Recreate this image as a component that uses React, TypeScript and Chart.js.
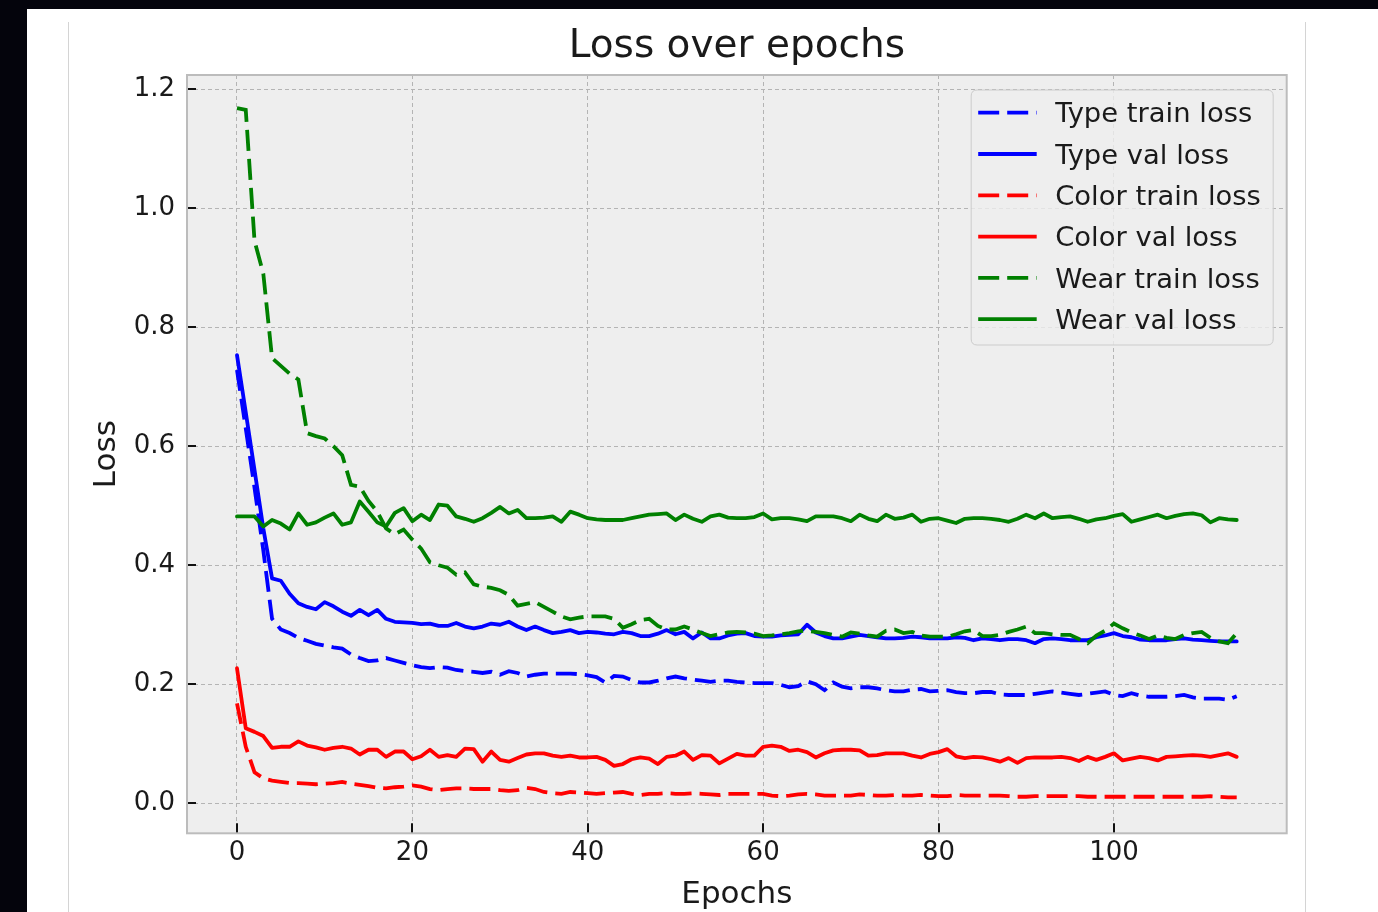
import React, { useEffect, useRef } from "react";
import { Chart, registerables } from "chart.js";

Chart.register(...registerables);

const FONT = "DejaVu Sans";
const TEXT = "#1a1a1a";

const chartTitle = "Loss over epochs";
const xLabel = "Epochs";
const yLabel = "Loss";
const xTickValues = [0, 20, 40, 60, 80, 100];
const yTickValues = [0.0, 0.2, 0.4, 0.6, 0.8, 1.0, 1.2];

const seriesLabels = [
  "Type train loss",
  "Type val loss",
  "Color train loss",
  "Color val loss",
  "Wear train loss",
  "Wear val loss",
];

const typeTrainLoss = [
  0.728, 0.630, 0.530, 0.425, 0.310, 0.292, 0.286, 0.278, 0.273, 0.268,
  0.265, 0.262, 0.260, 0.250, 0.244, 0.239, 0.240, 0.244, 0.240, 0.236,
  0.232, 0.229, 0.227, 0.229, 0.228, 0.224, 0.222, 0.221, 0.219, 0.221,
  0.216, 0.222, 0.219, 0.213, 0.216, 0.218, 0.218, 0.218, 0.218, 0.217,
  0.215, 0.212, 0.203, 0.214, 0.213, 0.207, 0.203, 0.203, 0.206, 0.210,
  0.213, 0.210, 0.208, 0.206, 0.204, 0.206, 0.206, 0.204, 0.203, 0.202,
  0.202, 0.202, 0.199, 0.195, 0.197, 0.205, 0.200, 0.190, 0.203, 0.196,
  0.193, 0.195, 0.195, 0.193, 0.190, 0.188, 0.188, 0.191, 0.192, 0.188,
  0.189, 0.190, 0.187, 0.185, 0.185, 0.187, 0.187, 0.183, 0.182, 0.182,
  0.182, 0.184, 0.186, 0.188, 0.186, 0.184, 0.182, 0.184, 0.186, 0.188,
  0.182, 0.180, 0.185, 0.181, 0.179, 0.179, 0.179, 0.180, 0.182, 0.178,
  0.176, 0.176, 0.176, 0.174, 0.180,
];

const typeValLoss = [
  0.753, 0.657, 0.560, 0.462, 0.378, 0.374, 0.352, 0.336, 0.330, 0.326,
  0.338, 0.331, 0.322, 0.315, 0.325, 0.316, 0.325, 0.310, 0.305, 0.304,
  0.303, 0.301, 0.302, 0.298, 0.298, 0.303, 0.297, 0.294, 0.297, 0.302,
  0.300, 0.305, 0.297, 0.291, 0.297, 0.291, 0.286, 0.288, 0.291, 0.286,
  0.288, 0.287, 0.285, 0.284, 0.288, 0.286, 0.281, 0.281, 0.285, 0.291,
  0.284, 0.288, 0.277, 0.287, 0.277, 0.277, 0.282, 0.285, 0.286, 0.281,
  0.280, 0.280, 0.282, 0.283, 0.284, 0.300, 0.287, 0.281, 0.277, 0.277,
  0.280, 0.283, 0.281, 0.279, 0.277, 0.277, 0.278, 0.280, 0.279, 0.277,
  0.277, 0.277, 0.279, 0.278, 0.274, 0.277, 0.276, 0.274, 0.276, 0.276,
  0.274, 0.269, 0.276, 0.277, 0.276, 0.274, 0.274, 0.274, 0.279, 0.282,
  0.286, 0.281, 0.279, 0.275, 0.274, 0.274, 0.274, 0.276, 0.277, 0.275,
  0.274, 0.273, 0.272, 0.272, 0.272,
];

const colorTrainLoss = [
  0.168, 0.095, 0.052, 0.042, 0.038, 0.036, 0.034, 0.034, 0.033, 0.032,
  0.033, 0.034, 0.036, 0.033, 0.031, 0.029, 0.026, 0.025, 0.027, 0.028,
  0.030, 0.028, 0.024, 0.022, 0.024, 0.025, 0.025, 0.024, 0.024, 0.024,
  0.022, 0.021, 0.022, 0.026, 0.024, 0.019, 0.017, 0.016, 0.019, 0.018,
  0.017, 0.016, 0.017, 0.018, 0.019, 0.016, 0.014, 0.016, 0.016, 0.017,
  0.016, 0.016, 0.017, 0.016, 0.015, 0.014, 0.016, 0.016, 0.016, 0.016,
  0.016, 0.013, 0.012, 0.013, 0.015, 0.016, 0.015, 0.013, 0.013, 0.013,
  0.013, 0.015, 0.014, 0.013, 0.013, 0.014, 0.013, 0.013, 0.014, 0.013,
  0.012, 0.012, 0.014, 0.013, 0.013, 0.013, 0.013, 0.013, 0.012, 0.011,
  0.011, 0.012, 0.012, 0.012, 0.012, 0.012, 0.012, 0.011, 0.011, 0.011,
  0.011, 0.011, 0.011, 0.011, 0.011, 0.011, 0.011, 0.011, 0.011, 0.011,
  0.011, 0.012, 0.011, 0.010, 0.010,
];

const colorValLoss = [
  0.227, 0.126, 0.120, 0.113, 0.093, 0.095, 0.095, 0.104, 0.097, 0.094,
  0.090, 0.093, 0.095, 0.092, 0.082, 0.090, 0.090, 0.078, 0.087, 0.087,
  0.074, 0.079, 0.090, 0.078, 0.081, 0.078, 0.092, 0.091, 0.070, 0.087,
  0.073, 0.070, 0.076, 0.082, 0.084, 0.084, 0.080, 0.078, 0.080, 0.077,
  0.077, 0.078, 0.073, 0.063, 0.066, 0.074, 0.077, 0.075, 0.066, 0.078,
  0.080, 0.087, 0.073, 0.081, 0.080, 0.067, 0.075, 0.083, 0.080, 0.080,
  0.095, 0.097, 0.095, 0.088, 0.090, 0.086, 0.077, 0.084, 0.089, 0.090,
  0.090, 0.089, 0.080, 0.081, 0.084, 0.084, 0.084, 0.080, 0.077, 0.083,
  0.086, 0.091, 0.079, 0.076, 0.078, 0.077, 0.074, 0.070, 0.076, 0.068,
  0.076, 0.077, 0.077, 0.077, 0.078, 0.076, 0.071, 0.078, 0.073, 0.078,
  0.084, 0.072, 0.075, 0.078, 0.076, 0.072, 0.078, 0.079, 0.080, 0.081,
  0.080, 0.078, 0.081, 0.084, 0.078,
];

const wearTrainLoss = [
  1.168, 1.165, 0.945, 0.890, 0.748, 0.735, 0.722, 0.712, 0.622, 0.617,
  0.613, 0.600, 0.585, 0.535, 0.532, 0.508, 0.490, 0.462, 0.452, 0.460,
  0.443, 0.428, 0.405, 0.400, 0.396, 0.384, 0.388, 0.368, 0.364, 0.362,
  0.358, 0.350, 0.332, 0.335, 0.338, 0.330, 0.322, 0.314, 0.309, 0.312,
  0.314, 0.314, 0.314, 0.310, 0.295, 0.301, 0.308, 0.310, 0.298, 0.292,
  0.292, 0.297, 0.292, 0.286, 0.281, 0.284, 0.287, 0.288, 0.287, 0.285,
  0.281, 0.282, 0.284, 0.286, 0.289, 0.290, 0.288, 0.286, 0.283, 0.280,
  0.287, 0.285, 0.282, 0.280, 0.290, 0.292, 0.286, 0.288, 0.282, 0.280,
  0.280, 0.280, 0.284, 0.289, 0.291, 0.281, 0.281, 0.283, 0.288, 0.292,
  0.297, 0.286, 0.286, 0.284, 0.283, 0.283, 0.276, 0.269, 0.282, 0.290,
  0.302, 0.294, 0.287, 0.282, 0.276, 0.282, 0.278, 0.276, 0.283, 0.286,
  0.288, 0.278, 0.272, 0.269, 0.286,
];

const wearValLoss = [
  0.482, 0.482, 0.482, 0.465, 0.476, 0.470, 0.460, 0.487, 0.468, 0.472,
  0.480, 0.487, 0.468, 0.472, 0.507, 0.490, 0.472, 0.465, 0.488, 0.496,
  0.474, 0.485, 0.476, 0.502, 0.500, 0.482, 0.478, 0.473, 0.479, 0.488,
  0.498, 0.487, 0.493, 0.479, 0.479, 0.480, 0.482, 0.473, 0.490, 0.485,
  0.479, 0.477, 0.476, 0.476, 0.476, 0.479, 0.482, 0.485, 0.486, 0.487,
  0.476, 0.485, 0.478, 0.473, 0.482, 0.485, 0.480, 0.479, 0.479, 0.481,
  0.487, 0.477, 0.479, 0.479, 0.477, 0.474, 0.482, 0.482, 0.482, 0.479,
  0.474, 0.485, 0.478, 0.474, 0.485, 0.478, 0.480, 0.485, 0.473, 0.478,
  0.479, 0.475, 0.471, 0.478, 0.479, 0.479, 0.478, 0.476, 0.473, 0.478,
  0.485, 0.479, 0.487, 0.479, 0.481, 0.482, 0.478, 0.473, 0.477, 0.479,
  0.483, 0.486, 0.473, 0.477, 0.481, 0.485, 0.479, 0.483, 0.486, 0.487,
  0.484, 0.472, 0.479, 0.477, 0.476,
];

const seriesValues = [
  typeTrainLoss,
  typeValLoss,
  colorTrainLoss,
  colorValLoss,
  wearTrainLoss,
  wearValLoss,
];
const seriesColors = ["#0000ff", "#0000ff", "#ff0000", "#ff0000", "#008000", "#008000"];
const seriesDashed = [true, false, true, false, true, false];

const DASH = [21, 8];
const LINE_W = 3.8;

const mplPlugin = {
  id: "mplLook",
  beforeDraw(chart: any) {
    const { ctx, chartArea: a } = chart;
    ctx.save();
    ctx.fillStyle = "#eeeeee";
    ctx.fillRect(a.left, a.top, a.right - a.left, a.bottom - a.top);
    ctx.restore();
  },
  afterDatasetsDraw(chart: any) {
    const { ctx, chartArea: a, scales } = chart;
    const xs = scales.x;
    const ys = scales.y;
    ctx.save();
    // inward tick marks
    ctx.strokeStyle = "#111111";
    ctx.lineWidth = 2;
    ctx.setLineDash([]);
    xs.ticks.forEach((t: any) => {
      const px = Math.round(xs.getPixelForValue(t.value));
      ctx.beginPath();
      ctx.moveTo(px, a.bottom);
      ctx.lineTo(px, a.bottom - 10);
      ctx.stroke();
    });
    ys.ticks.forEach((t: any) => {
      const py = Math.round(ys.getPixelForValue(t.value));
      ctx.beginPath();
      ctx.moveTo(a.left, py);
      ctx.lineTo(a.left + 9, py);
      ctx.stroke();
    });
    // frame
    ctx.strokeStyle = "#bcbcbc";
    ctx.lineWidth = 2;
    ctx.strokeRect(a.left, a.top, a.right - a.left, a.bottom - a.top);

    // legend
    const lx = a.right - 315.5;
    const ly = a.top + 15;
    const lw = 302;
    const lh = 255;
    const r = 6;
    ctx.beginPath();
    ctx.moveTo(lx + r, ly);
    ctx.lineTo(lx + lw - r, ly);
    ctx.quadraticCurveTo(lx + lw, ly, lx + lw, ly + r);
    ctx.lineTo(lx + lw, ly + lh - r);
    ctx.quadraticCurveTo(lx + lw, ly + lh, lx + lw - r, ly + lh);
    ctx.lineTo(lx + r, ly + lh);
    ctx.quadraticCurveTo(lx, ly + lh, lx, ly + lh - r);
    ctx.lineTo(lx, ly + r);
    ctx.quadraticCurveTo(lx, ly, lx + r, ly);
    ctx.closePath();
    ctx.fillStyle = "rgba(238,238,238,0.8)";
    ctx.fill();
    ctx.strokeStyle = "#cccccc";
    ctx.lineWidth = 1;
    ctx.stroke();

    ctx.font = `27.4px "${FONT}"`;
    ctx.textBaseline = "alphabetic";
    ctx.textAlign = "left";
    chart.data.datasets.forEach((ds: any, i: number) => {
      const cy = a.top + 37.7 + i * 41.3;
      ctx.beginPath();
      ctx.strokeStyle = ds.borderColor;
      ctx.lineWidth = ds.borderWidth;
      ctx.lineCap = "butt";
      ctx.setLineDash(ds.borderDash || []);
      ctx.moveTo(a.right - 308.5, cy);
      ctx.lineTo(a.right - 250, cy);
      ctx.stroke();
      ctx.setLineDash([]);
      ctx.fillStyle = TEXT;
      ctx.fillText(ds.label, a.right - 231.5, cy + 9.6);
    });
    ctx.restore();
  },
};

export default function App() {
  const canvasRef = useRef<HTMLCanvasElement | null>(null);

  useEffect(() => {
    const canvas = canvasRef.current;
    if (!canvas) return;
    const datasets = seriesValues.map((vals, i) => ({
      label: seriesLabels[i],
      data: vals.map((v, k) => ({ x: k, y: v })),
      borderColor: seriesColors[i],
      backgroundColor: seriesColors[i],
      borderWidth: LINE_W,
      borderDash: seriesDashed[i] ? DASH : [],
      borderJoinStyle: seriesDashed[i] ? "miter" : "round",
      borderCapStyle: seriesDashed[i] ? "butt" : "round",
      pointRadius: 0,
      tension: 0,
      fill: false,
      order: seriesValues.length - i,
    }));

    const chart = new Chart(canvas, {
      type: "line",
      data: { datasets } as any,
      options: {
        animation: false,
        responsive: false,
        maintainAspectRatio: false,
        devicePixelRatio: 1,
        layout: { padding: { left: 0, right: 91.3, top: 0, bottom: 0 } },
        plugins: {
          legend: { display: false },
          tooltip: { enabled: false },
          title: {
            display: true,
            fullSize: false,
            text: chartTitle,
            color: TEXT,
            font: { family: FONT, size: 39, weight: "normal", lineHeight: 1.2 },
            padding: { top: 23, bottom: 5.2 },
          },
        },
        scales: {
          x: {
            type: "linear",
            min: -5.7,
            max: 119.7,
            afterBuildTicks: (axis: any) => {
              axis.ticks = xTickValues.map((v) => ({ value: v }));
            },
            afterFit: (axis: any) => {
              axis.height = 78.7;
            },
            grid: { color: "#b4b4b4", lineWidth: 1, drawTicks: false },
            border: { display: false, dash: [4, 3] },
            ticks: {
              padding: 4,
              color: TEXT,
              font: { family: FONT, size: 26 },
              callback: (v: any) => String(v),
            },
            title: {
              display: true,
              text: xLabel,
              color: TEXT,
              font: { family: FONT, size: 31, lineHeight: 1.0 },
              padding: { top: 0, bottom: 1.5 },
            },
          },
          y: {
            type: "linear",
            min: -0.0504,
            max: 1.2237,
            afterBuildTicks: (axis: any) => {
              axis.ticks = yTickValues.map((v) => ({ value: v }));
            },
            afterFit: (axis: any) => {
              axis.width = 187;
            },
            grid: { color: "#b4b4b4", lineWidth: 1, drawTicks: false },
            border: { display: false, dash: [4, 3] },
            ticks: {
              padding: 12,
              color: TEXT,
              font: { family: FONT, size: 26 },
              callback: (v: any) => Number(v).toFixed(1),
            },
            title: {
              display: true,
              text: yLabel,
              color: TEXT,
              font: { family: FONT, size: 31, lineHeight: 1.2 },
              padding: { top: 88.5, bottom: 0 },
            },
          },
        },
      } as any,
      plugins: [mplPlugin],
    });
    return () => chart.destroy();
  }, []);

  return (
    <div
      style={{
        position: "fixed",
        left: 0,
        top: 0,
        width: 1378,
        height: 912,
        background: "#04040c",
        overflow: "hidden",
      }}
    >
      <div style={{ position: "absolute", left: 27, top: 9, right: 0, bottom: 0, background: "#ffffff" }} />
      <div style={{ position: "absolute", left: 68, top: 22, width: 1, bottom: 0, background: "#d4d4d4" }} />
      <div style={{ position: "absolute", left: 1305, top: 22, width: 1, bottom: 0, background: "#d4d4d4" }} />
      <canvas
        ref={canvasRef}
        width={1378}
        height={912}
        style={{ position: "absolute", left: 0, top: 0, width: 1378, height: 912 }}
      />
    </div>
  );
}
